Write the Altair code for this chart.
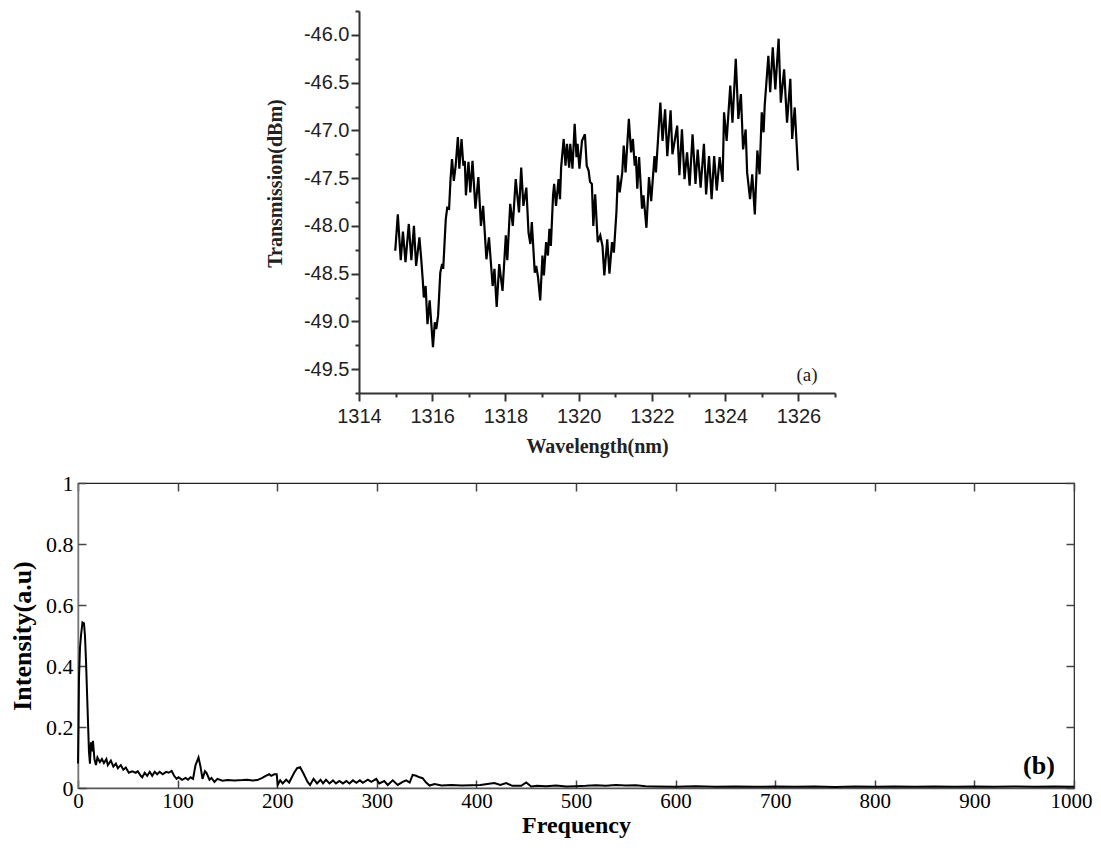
import altair as alt
import pandas as pd

# ---------------- Panel (a): transmission spectrum ----------------
WAVELENGTH = [
    1314.99, 1315.06, 1315.14, 1315.20, 1315.27, 1315.36, 1315.43, 1315.50, 1315.56, 1315.65,
    1315.70, 1315.74, 1315.77, 1315.82, 1315.87, 1315.93, 1316.02, 1316.07, 1316.11, 1316.16,
    1316.22, 1316.27, 1316.30, 1316.37, 1316.41, 1316.46, 1316.50, 1316.54, 1316.59, 1316.64,
    1316.70, 1316.74, 1316.80, 1316.85, 1316.89, 1316.92, 1316.99, 1317.04, 1317.10, 1317.18,
    1317.26, 1317.33, 1317.39, 1317.48, 1317.55, 1317.65, 1317.70, 1317.76, 1317.83, 1317.92,
    1318.01, 1318.05, 1318.13, 1318.20, 1318.28, 1318.37, 1318.43, 1318.49, 1318.57, 1318.63,
    1318.68, 1318.72, 1318.80, 1318.84, 1318.89, 1318.95, 1319.01, 1319.05, 1319.11, 1319.16,
    1319.20, 1319.24, 1319.30, 1319.33, 1319.38, 1319.45, 1319.49, 1319.52, 1319.59, 1319.64,
    1319.68, 1319.74, 1319.77, 1319.83, 1319.89, 1319.94, 1319.97, 1320.02, 1320.09, 1320.17,
    1320.22, 1320.27, 1320.31, 1320.36, 1320.40, 1320.45, 1320.52, 1320.59, 1320.65, 1320.70,
    1320.78, 1320.84, 1320.91, 1320.96, 1320.98, 1321.03, 1321.07, 1321.12, 1321.19, 1321.23,
    1321.28, 1321.37, 1321.43, 1321.48, 1321.53, 1321.56, 1321.60, 1321.65, 1321.73, 1321.77,
    1321.85, 1321.92, 1321.98, 1322.07, 1322.11, 1322.23, 1322.29, 1322.36, 1322.42, 1322.51,
    1322.56, 1322.69, 1322.75, 1322.82, 1322.89, 1322.96, 1323.03, 1323.11, 1323.19, 1323.25,
    1323.33, 1323.42, 1323.48, 1323.56, 1323.63, 1323.70, 1323.77, 1323.85, 1323.93, 1323.97,
    1324.04, 1324.14, 1324.20, 1324.29, 1324.36, 1324.43, 1324.49, 1324.56, 1324.60, 1324.68,
    1324.74, 1324.81, 1324.88, 1324.94, 1325.00, 1325.05, 1325.08, 1325.18, 1325.23, 1325.30,
    1325.37, 1325.46, 1325.52, 1325.61, 1325.69, 1325.78, 1325.83, 1325.90, 1325.99,
]
TRANSMISSION = [
    -48.26, -47.88, -48.36, -48.06, -48.38, -47.98, -48.36, -48.00, -48.42, -48.12,
    -48.35, -48.56, -48.75, -48.63, -49.03, -48.78, -49.27, -49.01, -49.08, -48.94,
    -48.49, -48.40, -48.45, -47.93, -47.81, -47.82, -47.51, -47.30, -47.53, -47.37,
    -47.07, -47.40, -47.09, -47.37, -47.32, -47.68, -47.33, -47.65, -47.32, -47.82,
    -47.49, -48.00, -47.79, -48.35, -48.12, -48.63, -48.45, -48.85, -48.40, -48.68,
    -48.10, -48.36, -47.77, -48.00, -47.51, -47.86, -47.39, -47.79, -47.60, -48.07,
    -48.19, -47.96, -48.49, -48.42, -48.54, -48.78, -48.31, -48.52, -48.17, -48.31,
    -48.03, -48.21, -47.68, -47.56, -47.79, -47.51, -47.72, -47.39, -47.09, -47.37,
    -47.14, -47.39, -47.14, -47.40, -46.93, -47.28, -47.14, -47.40, -47.11, -47.04,
    -47.37, -47.42, -47.54, -47.56, -48.00, -47.67, -48.17, -48.10, -48.21, -48.52,
    -48.14, -48.50, -48.17, -48.28, -48.16, -47.86, -47.47, -47.65, -47.44, -47.16,
    -47.44, -46.88, -47.23, -47.09, -47.37, -47.27, -47.61, -47.28, -47.82, -47.68,
    -48.02, -47.49, -47.74, -47.27, -47.44, -46.71, -47.11, -46.78, -47.27, -46.79,
    -47.25, -46.95, -47.47, -46.99, -47.51, -47.23, -47.58, -47.04, -47.56, -47.20,
    -47.60, -47.14, -47.67, -47.27, -47.72, -47.27, -47.63, -47.28, -47.54, -46.81,
    -47.11, -46.53, -46.92, -46.25, -46.88, -46.62, -47.20, -46.99, -47.44, -47.72,
    -47.46, -47.88, -47.21, -47.46, -46.81, -47.02, -46.74, -46.22, -46.60, -46.13,
    -46.57, -46.04, -46.71, -46.36, -46.92, -46.46, -47.09, -46.76, -47.42,
]
WL_MAJOR = [1314, 1316, 1318, 1320, 1322, 1324, 1326]
WL_MINOR = [1315, 1317, 1319, 1321, 1323, 1325, 1327]
TX_MAJOR = [-49.5, -49.0, -48.5, -48.0, -47.5, -47.0, -46.5, -46.0]
TX_MINOR = [-49.75, -49.25, -48.75, -48.25, -47.75, -47.25, -46.75, -46.25, -45.75]

# ---------------- Panel (b): FFT spectrum ----------------
FREQUENCY = [
    0, 0.5, 1, 2, 3, 4.5, 6, 7, 8, 9.5, 11, 12, 13, 14, 15, 16.5, 18, 19.5, 22, 24,
    26, 28.5, 30, 33, 35.5, 38, 40, 43, 45.5, 48, 51, 54.5, 58, 60, 63, 64.5, 67, 69.5,
    72, 74.5, 77, 79.5, 82, 85, 88.5, 91, 94, 96.5, 99, 101, 104.5, 108, 110.5, 113,
    115.5, 118, 121, 123, 125, 127.5, 129, 132, 134, 137, 140, 145, 150, 157, 165, 170,
    175, 180, 185, 188.5, 192, 194, 197, 199.5, 200.5, 203, 205.5, 209, 212, 217, 220,
    223, 226, 230.5, 233, 236.5, 240, 243.5, 246, 249, 252.5, 256, 259, 262.5, 266,
    269.5, 272.5, 276, 279.5, 283, 286, 291, 294.5, 299.5, 302.5, 307.5, 311, 316, 321,
    326, 329.5, 333, 336, 339.5, 343, 346, 349.5, 353, 358, 365, 375, 385, 395, 404,
    411, 418, 424, 430, 436, 445, 450, 455, 461, 470, 480, 490, 500, 510, 520, 530,
    540, 550, 560, 570, 580, 600, 620, 640, 660, 680, 700, 720, 740, 760, 780, 800,
    820, 840, 860, 880, 900, 920, 940, 960, 980, 1000,
]
INTENSITY = [
    0.08, 0.20, 0.36, 0.46, 0.50, 0.543, 0.54, 0.50, 0.42, 0.27, 0.12, 0.08, 0.15, 0.12,
    0.155, 0.095, 0.075, 0.10, 0.085, 0.095, 0.082, 0.095, 0.075, 0.09, 0.07, 0.08, 0.065,
    0.075, 0.06, 0.067, 0.05, 0.055, 0.05, 0.055, 0.04, 0.035, 0.05, 0.04, 0.053, 0.04,
    0.053, 0.045, 0.053, 0.045, 0.053, 0.05, 0.056, 0.04, 0.03, 0.035, 0.027, 0.033, 0.027,
    0.035, 0.03, 0.075, 0.10, 0.07, 0.03, 0.055, 0.05, 0.027, 0.033, 0.02, 0.03, 0.024,
    0.026, 0.025, 0.026, 0.027, 0.025, 0.026, 0.033, 0.04, 0.045, 0.04, 0.045, 0.045,
    0.01, 0.025, 0.015, 0.027, 0.018, 0.05, 0.065, 0.068, 0.05, 0.02, 0.01, 0.03, 0.015,
    0.027, 0.015, 0.027, 0.015, 0.025, 0.015, 0.023, 0.015, 0.023, 0.015, 0.025, 0.017,
    0.025, 0.017, 0.027, 0.02, 0.03, 0.015, 0.023, 0.01, 0.025, 0.01, 0.02, 0.025, 0.018,
    0.043, 0.04, 0.035, 0.032, 0.018, 0.008, 0.013, 0.008, 0.01, 0.008, 0.009, 0.01,
    0.013, 0.016, 0.01, 0.016, 0.007, 0.007, 0.018, 0.005, 0.007, 0.006, 0.008, 0.005,
    0.006, 0.007, 0.009, 0.007, 0.01, 0.008, 0.009, 0.006, 0.005, 0.004, 0.006, 0.004,
    0.005, 0.004, 0.005, 0.004, 0.005, 0.003, 0.005, 0.004, 0.005, 0.004, 0.005, 0.004,
    0.005, 0.004, 0.005, 0.004, 0.005, 0.004,
]
FREQ_TICKS = [0, 100, 200, 300, 400, 500, 600, 700, 800, 900, 1000]
INT_TICKS = [0, 0.2, 0.4, 0.6, 0.8, 1.0]

SANS = "Liberation Sans"
SERIF = "Liberation Serif"
AX = "#333333"

# ---------- top chart ----------
TW, TH = 476, 382
top_df = pd.DataFrame({"wl": WAVELENGTH, "tx": TRANSMISSION})
xs_a = alt.Scale(domain=[1314, 1327], nice=False, zero=False)
ys_a = alt.Scale(domain=[-49.75, -45.75], nice=False, zero=False)
neg_expr = "datum.value < 0 ? '-' + format(-datum.value, '.1f') : format(datum.value, '.1f')"

line_a = alt.Chart(top_df).mark_line(color="black", strokeWidth=2.2).encode(
    x=alt.X("wl:Q", scale=xs_a, axis=alt.Axis(
        values=WL_MAJOR, format="d", title="Wavelength(nm)", orient="bottom",
        labelFont=SANS, labelFontSize=20, labelColor="#222", labelPadding=5,
        titleFont=SERIF, titleFontSize=20, titleFontWeight="bold", titleColor="#222",
        titlePadding=10, tickSize=8, tickWidth=2, tickColor=AX, domainColor=AX,
        domainWidth=2, grid=False, labelFlush=False)),
    y=alt.Y("tx:Q", scale=ys_a, axis=alt.Axis(
        values=TX_MAJOR, labelExpr=neg_expr, title="Transmission(dBm)", orient="left",
        labelFont=SANS, labelFontSize=20, labelColor="#222", labelPadding=2,
        titleFont=SERIF, titleFontSize=20, titleFontWeight="bold", titleColor="#222",
        titlePadding=18, titleY=172, tickSize=8, tickWidth=2, tickColor=AX,
        domainColor=AX, domainWidth=2, grid=False, labelFlush=False)),
)
minor_a = alt.Chart(top_df).mark_line(opacity=0).encode(
    x=alt.X("wl:Q", scale=xs_a, axis=alt.Axis(
        values=WL_MINOR, labels=False, title=None, orient="bottom", tickSize=4,
        tickWidth=2, tickColor=AX, domain=False, grid=False)),
    y=alt.Y("tx:Q", scale=ys_a, axis=alt.Axis(
        values=TX_MINOR, labels=False, title=None, orient="left", tickSize=4,
        tickWidth=2, tickColor=AX, domain=False, grid=False)),
)
label_a = alt.Chart(pd.DataFrame({"t": ["(a)"]})).mark_text(
    font=SERIF, fontSize=19, color="#222", align="center", baseline="middle"
).encode(text="t:N", x=alt.value(TW - 28), y=alt.value(TH - 18))

top = alt.layer(line_a, minor_a, label_a).resolve_axis(
    x="independent", y="independent"
).properties(width=TW, height=TH, view=alt.ViewBackground(stroke=None))

# invisible spacer that pushes panel (a) to the right
spacer = alt.Chart(pd.DataFrame({"t": [""]})).mark_text().encode(
    text="t:N"
).properties(width=187, height=10, view=alt.ViewBackground(stroke=None))

top_row = alt.hconcat(spacer, top, spacing=0)

# ---------- bottom chart ----------
BW, BH = 996, 305
bot_df = pd.DataFrame({"f": FREQUENCY, "v": INTENSITY})
xs_b = alt.Scale(domain=[0, 1000], nice=False, zero=False)
ys_b = alt.Scale(domain=[0, 1], nice=False, zero=False)

line_b = alt.Chart(bot_df).mark_line(color="black", strokeWidth=2).encode(
    x=alt.X("f:Q", scale=xs_b, axis=alt.Axis(
        values=FREQ_TICKS, format="d", title="Frequency", orient="bottom",
        labelFont=SERIF, labelFontSize=21, labelColor="black", labelPadding=2,
        labelOffset={"condition": {"test": "datum.value == 1000", "value": -3},
                     "value": 0},
        titleFont=SERIF, titleFontSize=24, titleFontWeight="bold", titleColor="black",
        titlePadding=2, ticks=False, domainColor="#555", domainWidth=1.5,
        grid=False, labelFlush=False)),
    y=alt.Y("v:Q", scale=ys_b, axis=alt.Axis(
        values=INT_TICKS, format=".1~f", title="Intensity(a.u)", orient="left",
        labelFont=SERIF, labelFontSize=22, labelColor="black", labelPadding=5,
        titleFont=SERIF, titleFontSize=26, titleFontWeight="bold", titleColor="black",
        titlePadding=10, ticks=False, domainColor="#777", domainWidth=1.5,
        grid=False, labelFlush=False)),
)
# inward ticks on bottom and left edges
ticks_in1 = alt.Chart(bot_df).mark_line(opacity=0).encode(
    x=alt.X("f:Q", scale=xs_b, axis=alt.Axis(
        values=FREQ_TICKS, labels=False, title=None, orient="top", offset=-BH,
        tickSize=8, tickWidth=1.5, tickColor="#444", domain=False, grid=False)),
    y=alt.Y("v:Q", scale=ys_b, axis=alt.Axis(
        values=INT_TICKS, labels=False, title=None, orient="right", offset=-BW,
        tickSize=8, tickWidth=1.5, tickColor="#444", domain=False, grid=False)),
)
# inward ticks on top and right edges
ticks_in2 = alt.Chart(bot_df).mark_line(opacity=0).encode(
    x=alt.X("f:Q", scale=xs_b, axis=alt.Axis(
        values=FREQ_TICKS, labels=False, title=None, orient="bottom", offset=-BH,
        tickSize=8, tickWidth=1.5, tickColor="#444", domain=False, grid=False)),
    y=alt.Y("v:Q", scale=ys_b, axis=alt.Axis(
        values=INT_TICKS, labels=False, title=None, orient="left", offset=-BW,
        tickSize=8, tickWidth=1.5, tickColor="#444", domain=False, grid=False)),
)
label_b = alt.Chart(pd.DataFrame({"t": ["(b)"]})).mark_text(
    font=SERIF, fontSize=26, fontWeight="bold", color="black", align="center",
    baseline="middle"
).encode(text="t:N", x=alt.value(BW - 35), y=alt.value(BH - 22))

bot = alt.layer(line_b, ticks_in1, ticks_in2, label_b).resolve_axis(
    x="independent", y="independent"
).properties(width=BW, height=BH,
             view=alt.ViewBackground(stroke="#222", strokeWidth=1.2))

chart = alt.vconcat(top_row, bot, spacing=15).properties(
    padding={"left": 0, "top": 2, "right": 0, "bottom": 0}
).configure(background="white")

chart.save("out.html", embed_options={"renderer": "svg", "actions": False})
